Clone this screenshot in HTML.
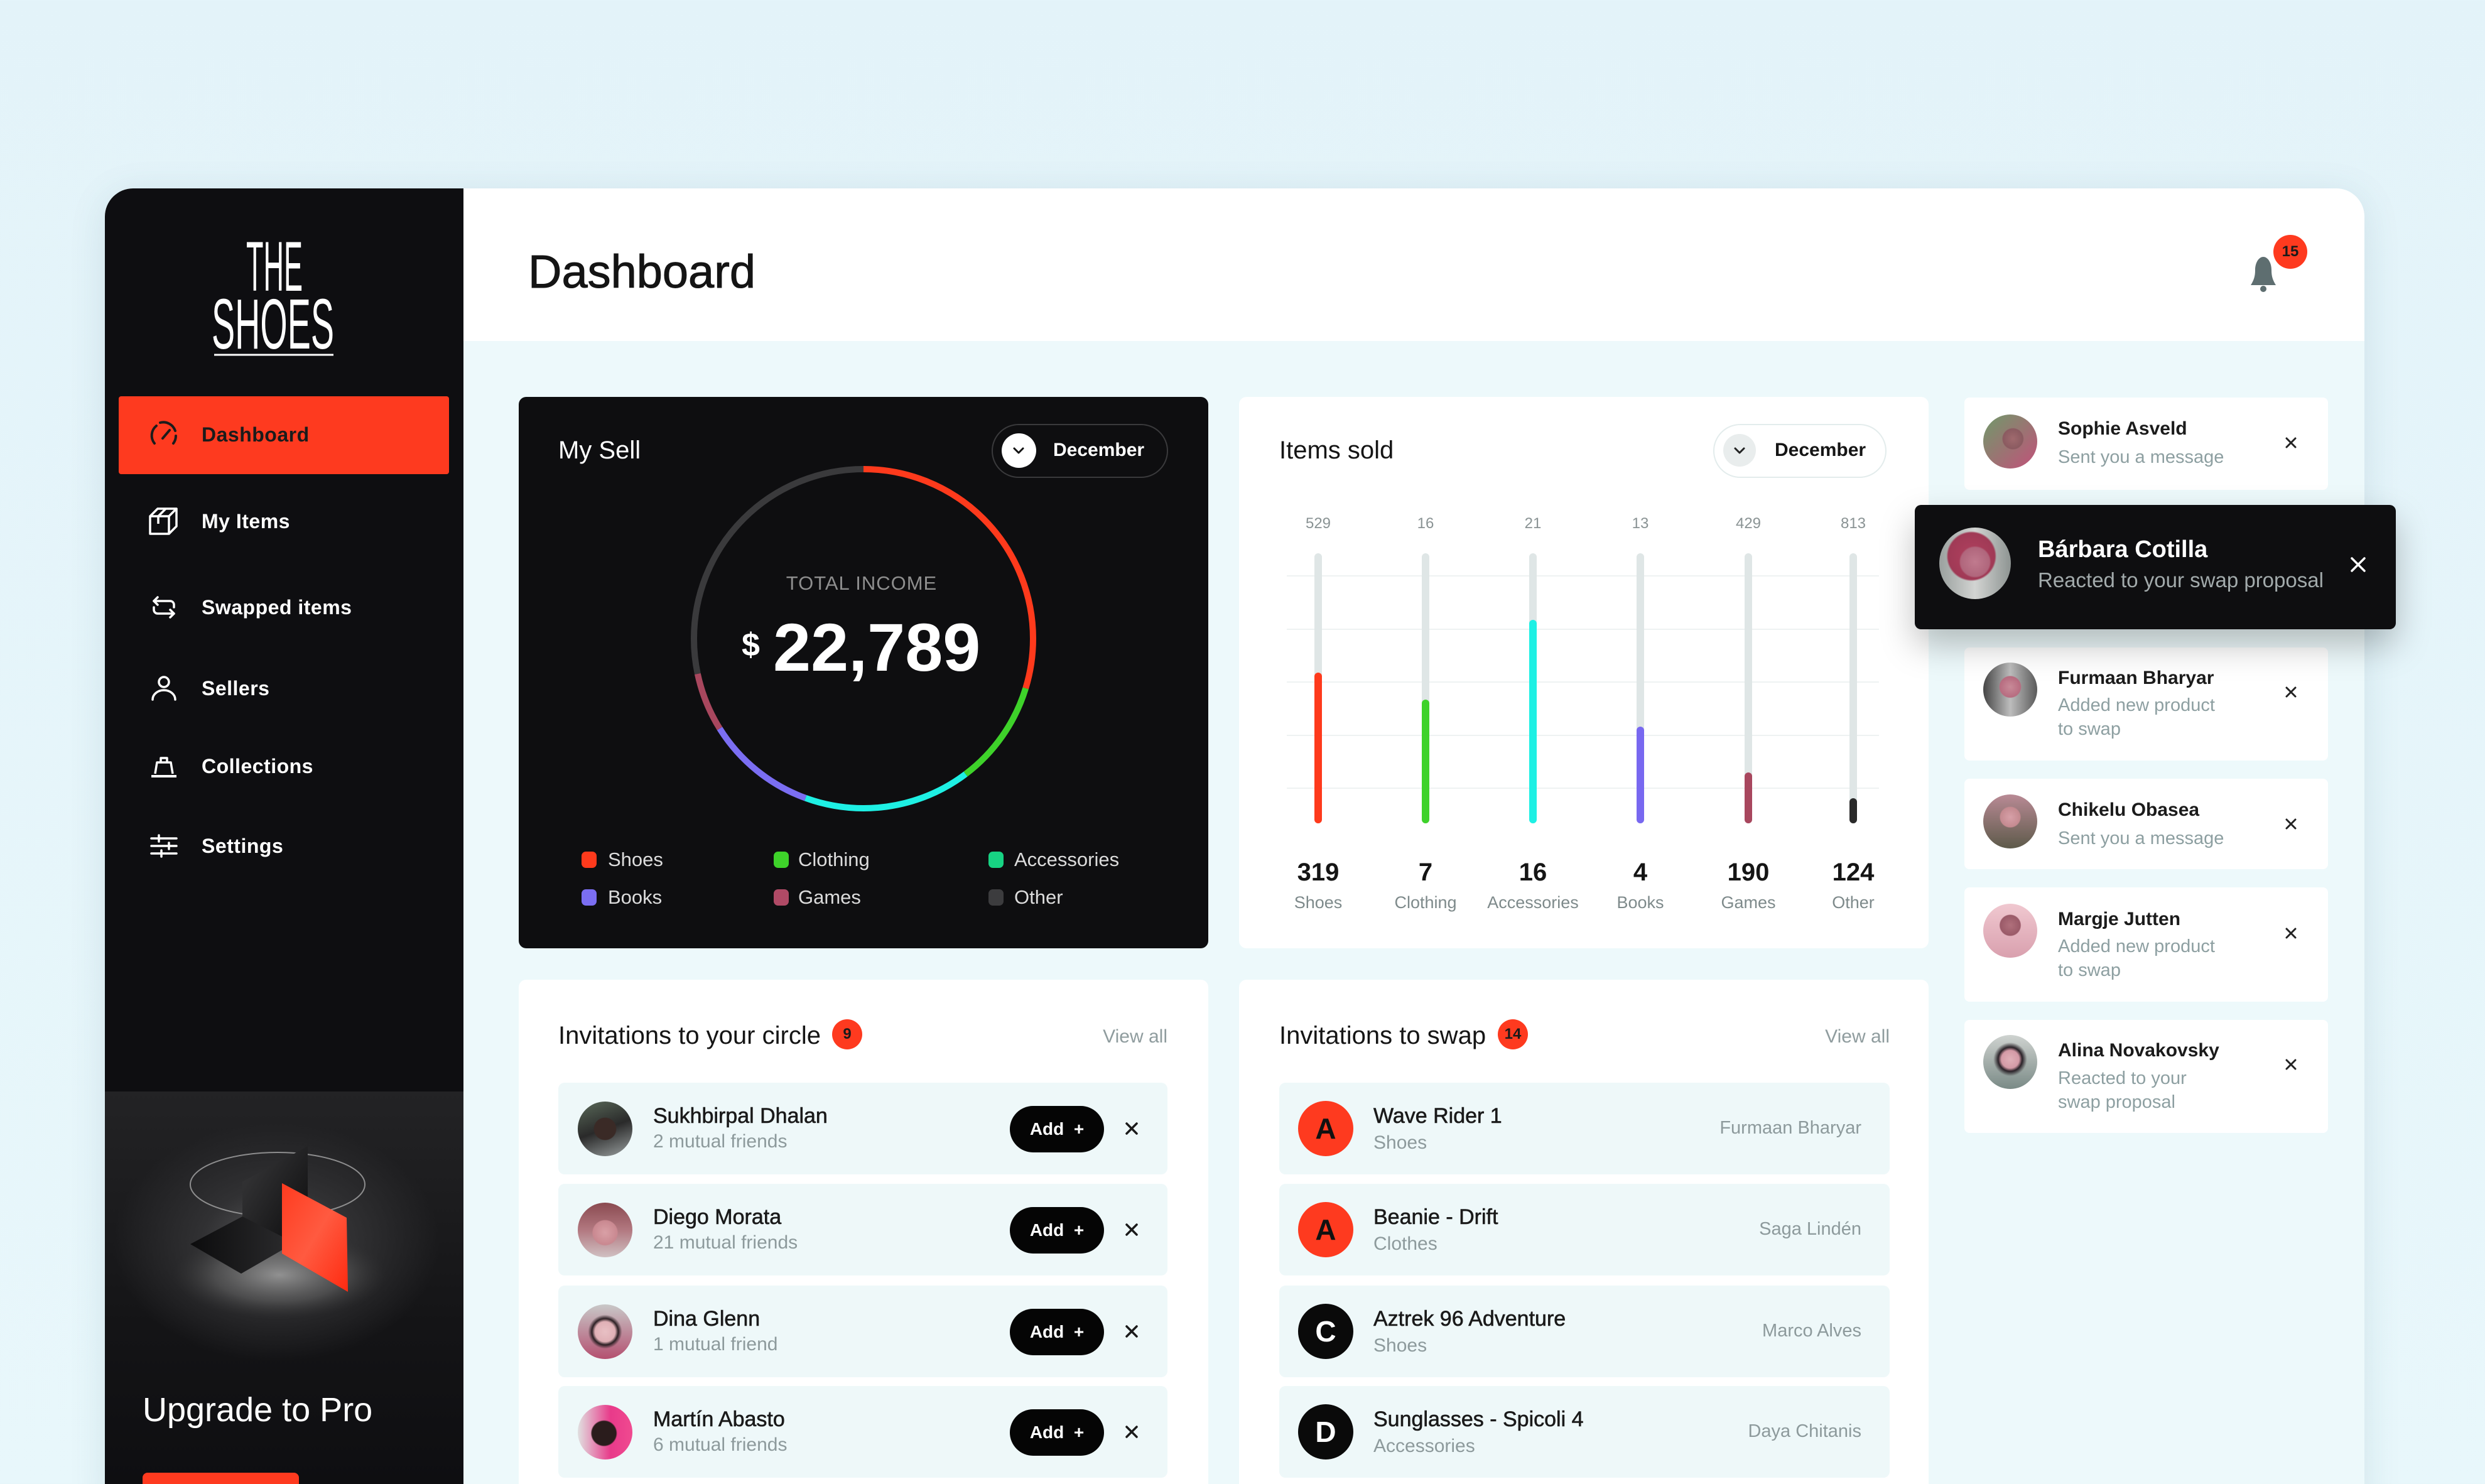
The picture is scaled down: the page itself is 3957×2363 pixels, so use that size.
<!DOCTYPE html>
<html><head><meta charset="utf-8">
<style>
*{margin:0;padding:0;box-sizing:border-box}
html,body{width:3957px;height:2363px;overflow:hidden}
body{background:linear-gradient(180deg,#e3f3f9 0%,#e8f7fb 100%);font-family:"Liberation Sans",Arial,sans-serif;position:relative}
.a{position:absolute}
.t{position:absolute;white-space:nowrap;line-height:1}
.card{position:absolute;background:#fff;border-radius:12px}
.row{position:absolute;background:#eef8f9;border-radius:10px}
.av{position:absolute;border-radius:50%;overflow:hidden}
.nm{position:absolute;white-space:nowrap;line-height:1;font-size:34px;color:#1a1a1a;-webkit-text-stroke:0.6px #1a1a1a}
.sb{position:absolute;white-space:nowrap;line-height:1;font-size:30px;color:#8d9a9c}
.add{position:absolute;left:719px;top:37px;width:150px;height:74px;border-radius:37px;background:#050505;color:#fff;font-size:28px;line-height:74px;text-align:center;font-weight:bold}
.nn{position:absolute;white-space:nowrap;line-height:1;font-size:30px;font-weight:bold;color:#1b1b1b;left:3277px}
.ns{position:absolute;white-space:nowrap;line-height:38px;font-size:29px;color:#8d9fa1;left:3277px}
.nav{position:absolute;left:321px;font-size:32px;font-weight:bold;color:#fff;line-height:1;white-space:nowrap;letter-spacing:0.5px}
.lg{position:absolute;font-size:31px;color:#dcdcdc;line-height:1;white-space:nowrap}
.dot{position:absolute;width:24px;height:26px;border-radius:7px}
.tl{position:absolute;width:120px;text-align:center;font-size:24px;color:#8a9394;line-height:1}
.bn{position:absolute;width:160px;text-align:center;font-size:40px;font-weight:bold;color:#151515;line-height:1}
.bl{position:absolute;width:180px;text-align:center;font-size:27px;color:#7e8a8b;line-height:1}
.lc{position:absolute;left:30px;top:29px;width:88px;height:88px;border-radius:50%;font-size:46px;font-weight:bold;line-height:88px;text-align:center}
.rn{position:absolute;right:45px;top:58px;font-size:29px;color:#8d9a9c;line-height:1;white-space:nowrap}
</style></head><body>

<!-- frame -->
<div class="a" style="left:167px;top:300px;width:3598px;height:2100px;border-radius:45px 45px 0 0;background:#edf9fb;box-shadow:0 10px 60px rgba(40,90,110,0.12)"></div>
<div class="a" style="left:737px;top:300px;width:3028px;height:243px;background:#fff;border-top-right-radius:45px"></div>

<!-- sidebar -->
<div class="a" style="left:167px;top:300px;width:571px;height:2063px;background:#0e0e11;border-top-left-radius:45px;overflow:hidden">
  <div class="a" style="left:0;top:1438px;width:571px;height:625px;background:radial-gradient(ellipse 260px 190px at 273px 240px,#5a5a5c 0%,#313133 45%,rgba(22,22,24,0) 100%),linear-gradient(180deg,#232325 0%,#141416 60%,#0e0e11 100%)"></div>
</div>
<div class="a" style="left:189px;top:631px;width:526px;height:124px;background:#fe3a1f;border-radius:4px"></div>
<div class="nav" style="top:676px;color:#1b1b1b">Dashboard</div>
<div class="nav" style="top:814px">My Items</div>
<div class="nav" style="top:951px">Swapped items</div>
<div class="nav" style="top:1080px">Sellers</div>
<div class="nav" style="top:1204px">Collections</div>
<div class="nav" style="top:1331px">Settings</div>
<div class="t" style="left:227px;top:2218px;font-size:54px;color:#fff">Upgrade to Pro</div>
<div class="a" style="left:227px;top:2345px;width:249px;height:60px;border-radius:8px;background:#fe3a1f"></div>

<!-- header -->
<div class="t" style="left:841px;top:396px;font-size:74px;color:#141414;-webkit-text-stroke:1px #141414">Dashboard</div>
<div class="a" style="left:3620px;top:374px;width:54px;height:54px;border-radius:50%;background:#fe3a1f;color:#1a1a1a;font-size:24px;font-weight:bold;line-height:54px;text-align:center">15</div>

<!-- My Sell card -->
<div class="card" style="left:826px;top:632px;width:1098px;height:878px;background:#0e0e10"></div>
<div class="t" style="left:889px;top:697px;font-size:40px;color:#fff">My Sell</div>
<div class="a" style="left:1579px;top:675px;width:281px;height:86px;border:2px solid #3a3a3c;border-radius:43px"></div>
<div class="a" style="left:1595px;top:690px;width:55px;height:55px;border-radius:50%;background:#fff"></div>
<div class="t" style="left:1677px;top:702px;font-size:30px;font-weight:bold;color:#fff">December</div>
<div class="t" style="left:1172px;top:913px;width:400px;text-align:center;font-size:31px;color:#8e8e8e;letter-spacing:1px">TOTAL INCOME</div>
<div class="t" style="left:1181px;top:1001px;font-size:52px;font-weight:bold;color:#fff">$</div>
<div class="t" style="left:1231px;top:977px;font-size:108px;font-weight:bold;color:#fff">22,789</div>
<div class="dot" style="left:926px;top:1356px;background:#fe3a1c"></div>
<div class="dot" style="left:1232px;top:1356px;background:#3ed22a"></div>
<div class="dot" style="left:1574px;top:1356px;background:#17d383"></div>
<div class="dot" style="left:926px;top:1416px;background:#7b6ef2"></div>
<div class="dot" style="left:1232px;top:1416px;background:#b04a66"></div>
<div class="dot" style="left:1574px;top:1416px;background:#3c3c3e"></div>
<div class="lg" style="left:968px;top:1353px">Shoes</div>
<div class="lg" style="left:1271px;top:1353px">Clothing</div>
<div class="lg" style="left:1615px;top:1353px">Accessories</div>
<div class="lg" style="left:968px;top:1413px">Books</div>
<div class="lg" style="left:1271px;top:1413px">Games</div>
<div class="lg" style="left:1615px;top:1413px">Other</div>

<!-- Items sold card -->
<div class="card" style="left:1973px;top:632px;width:1098px;height:878px"></div>
<div class="t" style="left:2037px;top:697px;font-size:40px;color:#151515">Items sold</div>
<div class="a" style="left:2728px;top:675px;width:276px;height:86px;border:2px solid #e3ecec;border-radius:43px"></div>
<div class="a" style="left:2744px;top:691px;width:52px;height:52px;border-radius:50%;background:#e9eded"></div>
<div class="t" style="left:2826px;top:702px;font-size:30px;font-weight:bold;color:#151515">December</div>

<div class="tl" style="left:2039px;top:822px">529</div>
<div class="tl" style="left:2210px;top:822px">16</div>
<div class="tl" style="left:2381px;top:822px">21</div>
<div class="tl" style="left:2552px;top:822px">13</div>
<div class="tl" style="left:2724px;top:822px">429</div>
<div class="tl" style="left:2891px;top:822px">813</div>

<div class="bn" style="left:2019px;top:1369px">319</div>
<div class="bn" style="left:2190px;top:1369px">7</div>
<div class="bn" style="left:2361px;top:1369px">16</div>
<div class="bn" style="left:2532px;top:1369px">4</div>
<div class="bn" style="left:2704px;top:1369px">190</div>
<div class="bn" style="left:2871px;top:1369px">124</div>

<div class="bl" style="left:2009px;top:1424px">Shoes</div>
<div class="bl" style="left:2180px;top:1424px">Clothing</div>
<div class="bl" style="left:2351px;top:1424px">Accessories</div>
<div class="bl" style="left:2522px;top:1424px">Books</div>
<div class="bl" style="left:2694px;top:1424px">Games</div>
<div class="bl" style="left:2861px;top:1424px">Other</div>

<!-- Notifications -->
<div class="card" style="left:3128px;top:633px;width:579px;height:147px;border-radius:8px"></div>
<div class="card" style="left:3128px;top:1031px;width:579px;height:180px;border-radius:8px"></div>
<div class="card" style="left:3128px;top:1240px;width:579px;height:144px;border-radius:8px"></div>
<div class="card" style="left:3128px;top:1413px;width:579px;height:182px;border-radius:8px"></div>
<div class="card" style="left:3128px;top:1624px;width:579px;height:180px;border-radius:8px"></div>

<div class="av" style="left:3158px;top:660px;width:86px;height:86px;background:radial-gradient(circle at 55% 45%,#a06a6e 0,#8a5a60 24%,transparent 26%),linear-gradient(135deg,#6f9a6a,#c2517a)"></div>
<div class="nn" style="top:668px">Sophie Asveld</div>
<div class="ns" style="top:709px">Sent you a message</div>

<div class="av" style="left:3158px;top:1055px;width:86px;height:86px;background:radial-gradient(circle at 50% 45%,#c88a98 0,#b76c80 26%,transparent 28%),linear-gradient(90deg,#454545,#bdbdbd 50%,#5a5a5a)"></div>
<div class="nn" style="top:1065px">Furmaan Bharyar</div>
<div class="ns" style="top:1104px">Added new product<br>to swap</div>

<div class="av" style="left:3158px;top:1265px;width:86px;height:86px;background:radial-gradient(circle at 50% 42%,#d7a0a8 0,#c48a90 24%,transparent 26%),linear-gradient(180deg,#b98a95,#5d5a4a)"></div>
<div class="nn" style="top:1275px">Chikelu Obasea</div>
<div class="ns" style="top:1316px">Sent you a message</div>

<div class="av" style="left:3158px;top:1439px;width:86px;height:86px;background:radial-gradient(circle at 50% 40%,#b0707c 0,#9a5a68 24%,transparent 26%),linear-gradient(180deg,#f0c8d0,#d9a0ae)"></div>
<div class="nn" style="top:1449px">Margje Jutten</div>
<div class="ns" style="top:1488px">Added new product<br>to swap</div>

<div class="av" style="left:3158px;top:1648px;width:86px;height:86px;background:radial-gradient(circle at 50% 45%,#e0b0b8 0,#d49aa6 22%,#2a2228 30%,transparent 42%),linear-gradient(180deg,#cfd3d0,#7a8a86)"></div>
<div class="nn" style="top:1658px">Alina Novakovsky</div>
<div class="ns" style="top:1698px">Reacted to your<br>swap proposal</div>

<!-- Barbara dark card -->
<div class="a" style="left:3049px;top:804px;width:766px;height:198px;background:#0e0e10;border-radius:10px;box-shadow:0 25px 55px rgba(0,0,0,0.25)"></div>
<div class="av" style="left:3088px;top:840px;width:114px;height:114px;background:radial-gradient(circle at 50% 48%,#c07a8e 0,#b0667c 28%,transparent 31%),radial-gradient(circle at 45% 40%,#b0405e 0,#a03a56 40%,transparent 43%),linear-gradient(90deg,#9aa09e,#d2d4d2 50%,#8e9492)"></div>
<div class="t" style="left:3245px;top:856px;font-size:38px;font-weight:bold;color:#fff">Bárbara Cotilla</div>
<div class="t" style="left:3245px;top:907px;font-size:33px;color:#a2aaab">Reacted to your swap proposal</div>

<!-- Invitations to your circle -->
<div class="card" style="left:826px;top:1560px;width:1098px;height:900px"></div>
<div class="t" style="left:889px;top:1629px;font-size:40px;color:#151515">Invitations to your circle</div>
<div class="a" style="left:1325px;top:1623px;width:48px;height:48px;border-radius:50%;background:#fe3a1f;color:#1a1a1a;font-size:24px;font-weight:bold;line-height:48px;text-align:center">9</div>
<div class="t" style="left:1659px;top:1636px;width:200px;text-align:right;font-size:30px;color:#8f9c9e">View all</div>

<div class="row" style="left:889px;top:1724px;width:970px;height:146px">
  <div class="av" style="left:31px;top:30px;width:87px;height:87px;background:radial-gradient(circle at 50% 50%,#3a2a26 0,#3a2a26 28%,transparent 30%),linear-gradient(160deg,#5a6a5a,#2a2a2a 50%,#9aa0a0)"></div>
  <div class="nm" style="left:151px;top:36px">Sukhbirpal Dhalan</div>
  <div class="sb" style="left:151px;top:79px">2 mutual friends</div>
  <div class="add">Add&nbsp;&nbsp;+</div>
</div>
<div class="row" style="left:889px;top:1885px;width:970px;height:146px">
  <div class="av" style="left:31px;top:30px;width:87px;height:87px;background:radial-gradient(circle at 50% 55%,#d9a0a6 0,#c98890 30%,transparent 32%),linear-gradient(180deg,#8a4a50,#b27880 50%,#d0c0c2)"></div>
  <div class="nm" style="left:151px;top:36px">Diego Morata</div>
  <div class="sb" style="left:151px;top:79px">21 mutual friends</div>
  <div class="add">Add&nbsp;&nbsp;+</div>
</div>
<div class="row" style="left:889px;top:2047px;width:970px;height:146px">
  <div class="av" style="left:31px;top:30px;width:87px;height:87px;background:radial-gradient(circle at 50% 50%,#e8c0c4 0,#e0b0b6 26%,#2c2024 34%,transparent 44%),linear-gradient(180deg,#c8c8c8,#b45070)"></div>
  <div class="nm" style="left:151px;top:36px">Dina Glenn</div>
  <div class="sb" style="left:151px;top:79px">1 mutual friend</div>
  <div class="add">Add&nbsp;&nbsp;+</div>
</div>
<div class="row" style="left:889px;top:2207px;width:970px;height:146px">
  <div class="av" style="left:31px;top:30px;width:87px;height:87px;background:radial-gradient(circle at 48% 52%,#2a1c1c 0,#2a1c1c 30%,transparent 33%),linear-gradient(90deg,#e0e0e0,#e83a8a 60%,#f04a90)"></div>
  <div class="nm" style="left:151px;top:36px">Martín Abasto</div>
  <div class="sb" style="left:151px;top:79px">6 mutual friends</div>
  <div class="add">Add&nbsp;&nbsp;+</div>
</div>

<!-- Invitations to swap -->
<div class="card" style="left:1973px;top:1560px;width:1098px;height:900px"></div>
<div class="t" style="left:2037px;top:1629px;font-size:40px;color:#151515">Invitations to swap</div>
<div class="a" style="left:2385px;top:1623px;width:48px;height:48px;border-radius:50%;background:#fe3a1f;color:#1a1a1a;font-size:24px;font-weight:bold;line-height:48px;text-align:center">14</div>
<div class="t" style="left:2809px;top:1636px;width:200px;text-align:right;font-size:30px;color:#8f9c9e">View all</div>

<div class="row" style="left:2037px;top:1724px;width:972px;height:146px">
  <div class="lc" style="background:#fe3a1f;color:#111">A</div>
  <div class="nm" style="left:150px;top:36px">Wave Rider 1</div>
  <div class="sb" style="left:150px;top:81px">Shoes</div>
  <div class="rn">Furmaan Bharyar</div>
</div>
<div class="row" style="left:2037px;top:1885px;width:972px;height:146px">
  <div class="lc" style="background:#fe3a1f;color:#111">A</div>
  <div class="nm" style="left:150px;top:36px">Beanie - Drift</div>
  <div class="sb" style="left:150px;top:81px">Clothes</div>
  <div class="rn">Saga Lindén</div>
</div>
<div class="row" style="left:2037px;top:2047px;width:972px;height:146px">
  <div class="lc" style="background:#0a0a0a;color:#fff">C</div>
  <div class="nm" style="left:150px;top:36px">Aztrek 96 Adventure</div>
  <div class="sb" style="left:150px;top:81px">Shoes</div>
  <div class="rn">Marco Alves</div>
</div>
<div class="row" style="left:2037px;top:2207px;width:972px;height:146px">
  <div class="lc" style="background:#0a0a0a;color:#fff">D</div>
  <div class="nm" style="left:150px;top:36px">Sunglasses - Spicoli 4</div>
  <div class="sb" style="left:150px;top:81px">Accessories</div>
  <div class="rn">Daya Chitanis</div>
</div>

<!-- overlay graphics -->
<svg class="a" style="left:0;top:0" width="3957" height="2363" viewBox="0 0 3957 2363" xmlns="http://www.w3.org/2000/svg">
  <defs>
    <linearGradient id="rg" x1="0" y1="0" x2="1" y2="1"><stop offset="0" stop-color="#ff3b1f"/><stop offset="0.5" stop-color="#ff5a40"/><stop offset="1" stop-color="#ff2a10"/></linearGradient>
    <linearGradient id="bg1" x1="0" y1="0" x2="1" y2="1"><stop offset="0" stop-color="#3a3a3c"/><stop offset="1" stop-color="#0a0a0b"/></linearGradient>
    <linearGradient id="bg2" x1="0" y1="0" x2="1" y2="0"><stop offset="0" stop-color="#0c0c0d"/><stop offset="1" stop-color="#2c2c2e"/></linearGradient>
    <radialGradient id="glow" cx="0.5" cy="0.5" r="0.5"><stop offset="0" stop-color="#9a9a9a" stop-opacity="0.9"/><stop offset="0.6" stop-color="#6a6a6a" stop-opacity="0.5"/><stop offset="1" stop-color="#3a3a3a" stop-opacity="0"/></radialGradient>
  </defs>

  <!-- logo -->
  <text x="392" y="463" font-family="Liberation Sans, sans-serif" font-size="112" fill="#fff" textLength="90" lengthAdjust="spacingAndGlyphs">THE</text>
  <text x="337" y="555" font-family="Liberation Sans, sans-serif" font-size="113" fill="#fff" textLength="195" lengthAdjust="spacingAndGlyphs">SHOES</text>
  <line x1="341" y1="565" x2="531" y2="565" stroke="#fff" stroke-width="3"/>

  <!-- nav icons -->
  <g transform="translate(261,692)" fill="none" stroke="#1c1c1c" stroke-width="4" stroke-linecap="round">
    <path d="M-15 14 A20 20 0 0 1 -12 -14"/><path d="M-6 -19 A20 20 0 0 1 18 -6"/><path d="M19 2 A20 20 0 0 1 15 14"/>
    <line x1="-2" y1="6" x2="9" y2="-7"/>
  </g>
  <g transform="translate(261,830)" fill="none" stroke="#fff" stroke-width="3.5" stroke-linejoin="round">
    <path d="M-22 -8 H8 V20 H-22 Z"/><path d="M-22 -8 L-10 -20 H20 L8 -8"/><path d="M8 20 L20 8 V-20"/><path d="M-9 -8 L3 -20 M-9 -8 V4"/>
  </g>
  <g transform="translate(261,967)" fill="none" stroke="#fff" stroke-width="3.5" stroke-linecap="round" stroke-linejoin="round">
    <path d="M16 0 V-4 A6 6 0 0 0 10 -10 H-16"/><path d="M-10 -16 L-16 -10 L-10 -4"/>
    <path d="M-16 0 V4 A6 6 0 0 0 -10 10 H16"/><path d="M10 4 L16 10 L10 16"/>
  </g>
  <g transform="translate(261,1096)" fill="none" stroke="#fff" stroke-width="3.5" stroke-linecap="round">
    <circle cx="0" cy="-10" r="8"/><path d="M-18 18 A18 15 0 0 1 18 18"/>
  </g>
  <g transform="translate(261,1220)" fill="none" stroke="#fff" stroke-width="3.5" stroke-linejoin="round">
    <path d="M-14 12 L-11 -6 H11 L14 12"/><path d="M-5 -6 V-13 H5 V-6"/><path d="M-20 16 H20" stroke-width="4"/>
  </g>
  <g transform="translate(261,1347)" fill="none" stroke="#fff" stroke-width="3.5" stroke-linecap="round">
    <path d="M-20 -12 H20 M-20 0 H20 M-20 12 H20"/><path d="M-8 -17 V-7 M8 -5 V5 M-4 7 V17"/>
  </g>

  <!-- illustration -->
  <ellipse cx="445" cy="2030" rx="170" ry="70" fill="url(#glow)"/>
  <ellipse cx="442" cy="1886" rx="139" ry="51" fill="none" stroke="#a8a8a8" stroke-width="2" stroke-opacity="0.8"/>
  <polygon points="386,1882 490,1825 490,1965 386,1990" fill="url(#bg1)"/>
  <polygon points="303,1981 386,1937 469,1979 384,2028" fill="url(#bg2)"/>
  <polygon points="449,1884 552,1939 554,2057 449,1996" fill="url(#rg)"/>

  <!-- bell -->
  <g transform="translate(3604,436)" fill="#5e6e70">
    <path d="M-20 18 C-15 10 -13 4 -13 -6 C-13 -18 -7 -27 0 -27 C7 -27 13 -18 13 -6 C13 4 15 10 20 18 Z"/>
    <circle cx="0" cy="24" r="5"/>
  </g>

  <!-- chevrons -->
  <polyline points="1615,714 1622,721 1629,714" fill="none" stroke="#111" stroke-width="3" stroke-linecap="round" stroke-linejoin="round"/>
  <polyline points="2763,714 2770,721 2777,714" fill="none" stroke="#222" stroke-width="3" stroke-linecap="round" stroke-linejoin="round"/>

  <!-- donut -->
  <g fill="none" stroke-width="10" transform="rotate(-90 1375 1017)">
    <circle cx="1375" cy="1017" r="270" stroke="#3a3a3c" stroke-dasharray="481 3000" stroke-dashoffset="-1215.8"/>
    <circle cx="1375" cy="1017" r="270" stroke="#fe3a1c" stroke-dasharray="504.2 3000" stroke-dashoffset="0"/>
    <circle cx="1375" cy="1017" r="270" stroke="#3ed22a" stroke-dasharray="169.6 3000" stroke-dashoffset="-504.2"/>
    <circle cx="1375" cy="1017" r="270" stroke="#1ef0e4" stroke-dasharray="268.6 3000" stroke-dashoffset="-673.8"/>
    <circle cx="1375" cy="1017" r="270" stroke="#7b6ef2" stroke-dasharray="179.1 3000" stroke-dashoffset="-942.4"/>
    <circle cx="1375" cy="1017" r="270" stroke="#a8475e" stroke-dasharray="94.3 3000" stroke-dashoffset="-1121.5"/>
  </g>

  <!-- grid lines -->
  <g stroke="#eef2f2" stroke-width="2">
    <line x1="2049" y1="917" x2="2992" y2="917"/><line x1="2049" y1="1002" x2="2992" y2="1002"/>
    <line x1="2049" y1="1086" x2="2992" y2="1086"/><line x1="2049" y1="1171" x2="2992" y2="1171"/>
    <line x1="2049" y1="1255" x2="2992" y2="1255"/>
  </g>
  <!-- bars -->
  <g>
    <rect x="2093" y="881" width="12" height="430" rx="6" fill="#dfe6e6"/>
    <rect x="2264" y="881" width="12" height="430" rx="6" fill="#dfe6e6"/>
    <rect x="2435" y="881" width="12" height="430" rx="6" fill="#dfe6e6"/>
    <rect x="2606" y="881" width="12" height="430" rx="6" fill="#dfe6e6"/>
    <rect x="2778" y="881" width="12" height="430" rx="6" fill="#dfe6e6"/>
    <rect x="2945" y="881" width="12" height="430" rx="6" fill="#dfe6e6"/>
    <rect x="2093" y="1071" width="12" height="240" rx="6" fill="#fe3a1c"/>
    <rect x="2264" y="1114" width="12" height="197" rx="6" fill="#3ed22a"/>
    <rect x="2435" y="987" width="12" height="324" rx="6" fill="#1ef0e4"/>
    <rect x="2606" y="1157" width="12" height="154" rx="6" fill="#7868f0"/>
    <rect x="2778" y="1230" width="12" height="81" rx="6" fill="#a8475e"/>
    <rect x="2945" y="1271" width="12" height="40" rx="6" fill="#2a2a2a"/>
  </g>

  <!-- close marks -->
  <g stroke="#222" stroke-width="3" stroke-linecap="round">
    <path d="M3641 698 L3655 712 M3655 698 L3641 712"/>
    <path d="M3641 1095 L3655 1109 M3655 1095 L3641 1109"/>
    <path d="M3641 1305 L3655 1319 M3655 1305 L3641 1319"/>
    <path d="M3641 1479 L3655 1493 M3655 1479 L3641 1493"/>
    <path d="M3641 1688 L3655 1702 M3655 1688 L3641 1702"/>
  </g>
  <path d="M3745 889 L3765 909 M3765 889 L3745 909" stroke="#fff" stroke-width="3.5" stroke-linecap="round"/>
  <g stroke="#1a1a1a" stroke-width="3.5" stroke-linecap="round">
    <path d="M1794 1789 L1810 1805 M1810 1789 L1794 1805"/>
    <path d="M1794 1950 L1810 1966 M1810 1950 L1794 1966"/>
    <path d="M1794 2112 L1810 2128 M1810 2112 L1794 2128"/>
    <path d="M1794 2272 L1810 2288 M1810 2272 L1794 2288"/>
  </g>
</svg>
</body></html>
